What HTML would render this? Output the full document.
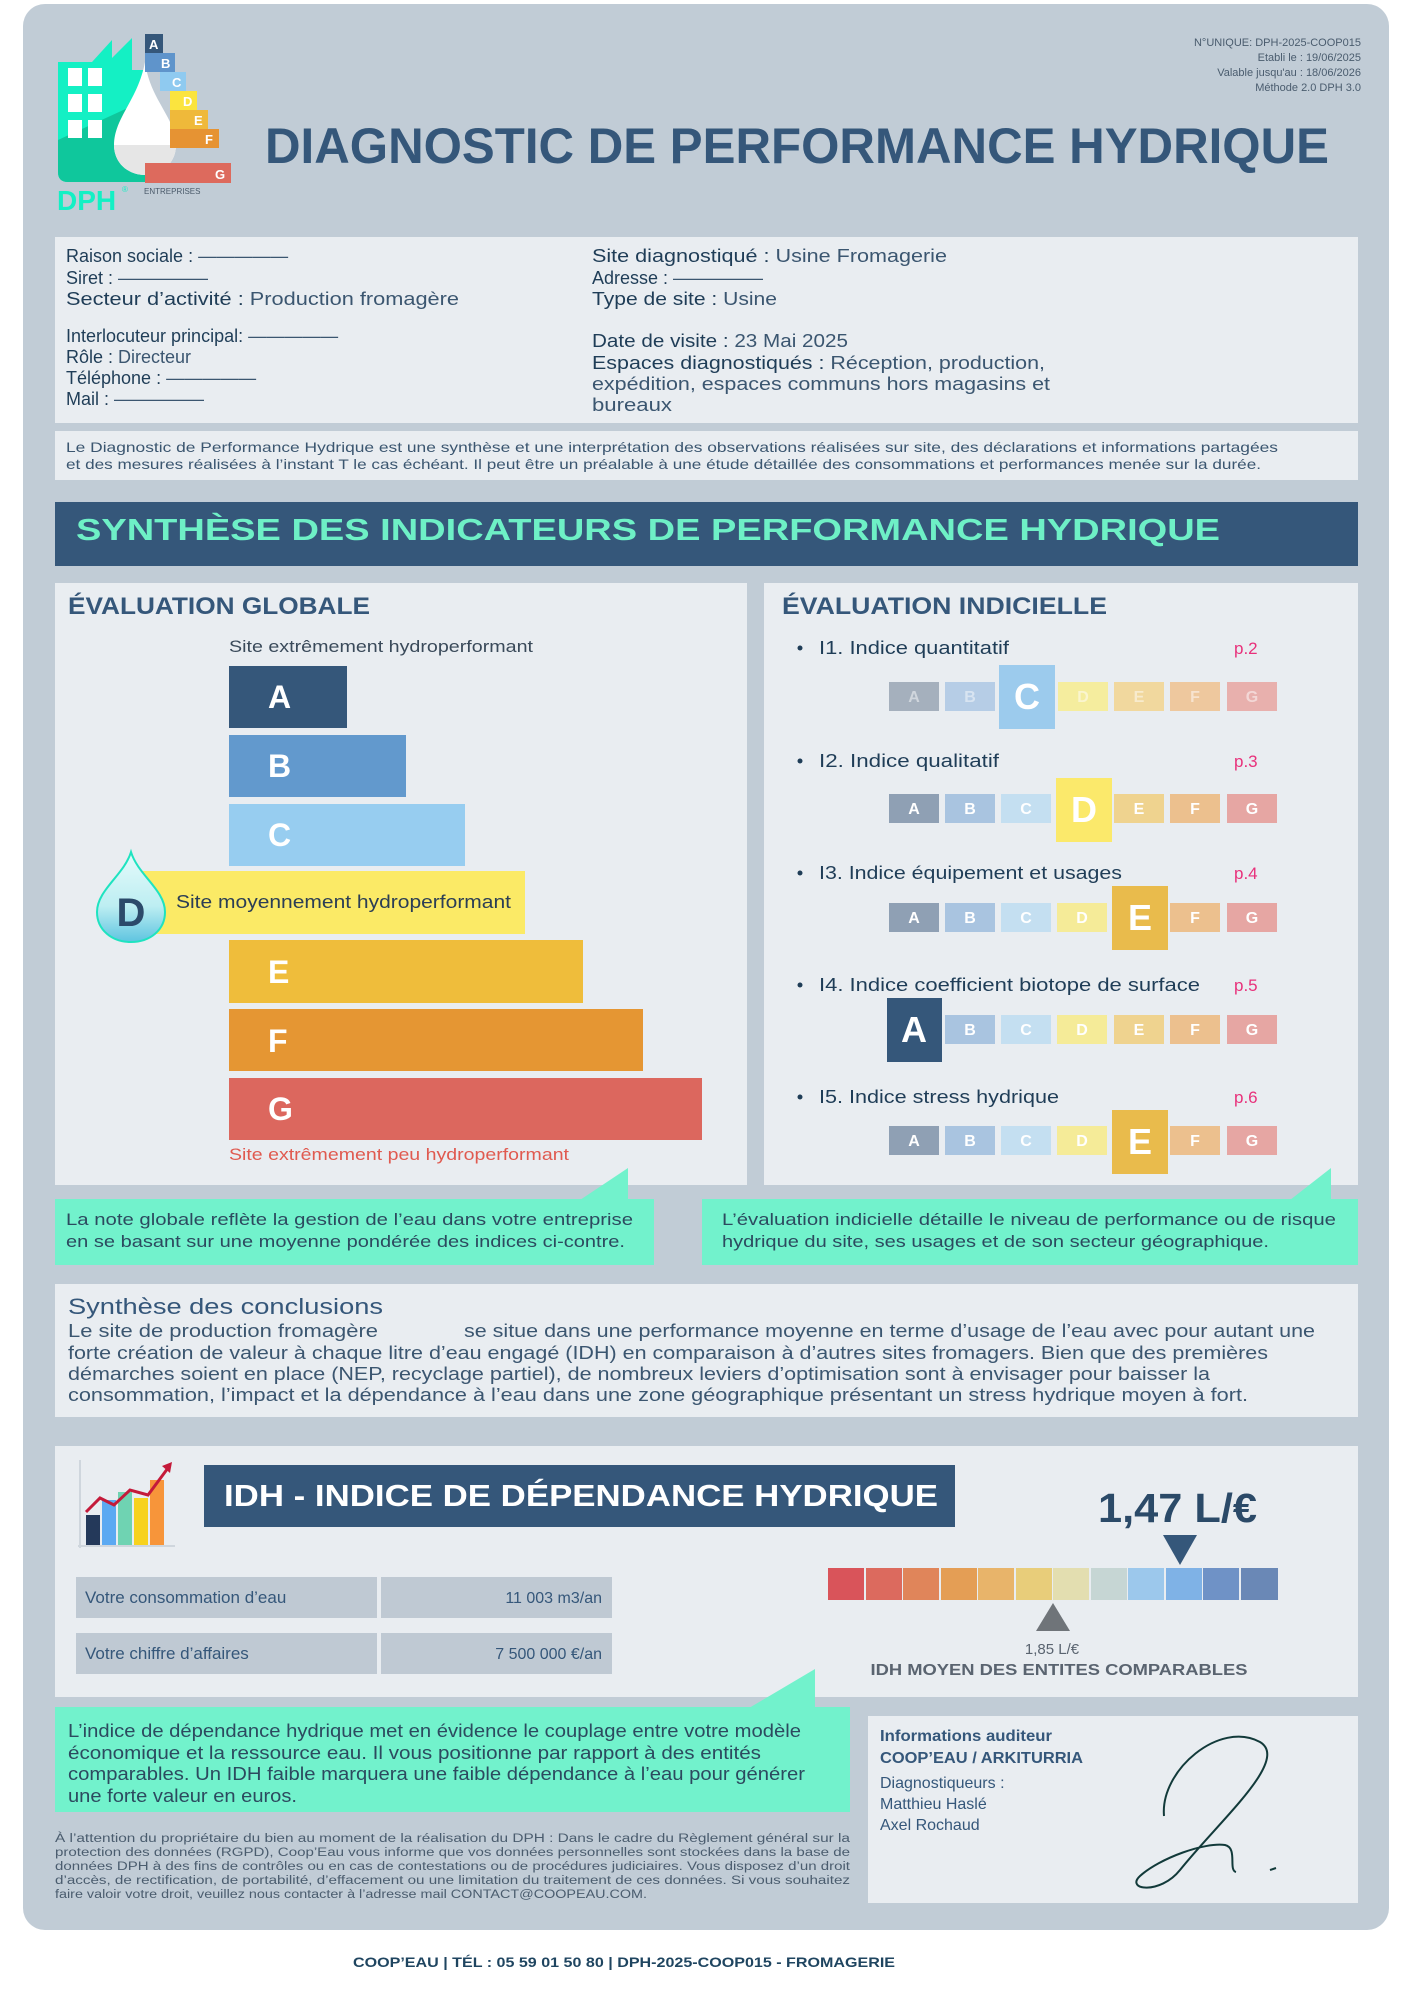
<!DOCTYPE html>
<html><head><meta charset="utf-8"><style>
html,body{margin:0;padding:0;background:#fff;}
svg{display:block;font-family:"Liberation Sans",sans-serif;}
</style></head><body>
<svg width="1414" height="2000" viewBox="0 0 1414 2000" xmlns="http://www.w3.org/2000/svg">
<rect x="0" y="0" width="1414" height="2000" fill="#fff"/>
<rect x="23" y="4" width="1366" height="1926" rx="22" fill="#c1ccd6"/>

<!-- logo -->
<g>
<path d="M58 62 L58 172 Q58 182 68 182 L145 182 L145 70 L132 70 L132 38 L112 58 L112 40 L92 62 Z" fill="#14f0c4"/>
<path d="M58 140 L145 100 L145 182 L68 182 Q58 182 58 172Z" fill="#0fc79c"/>
<g fill="#fff"><rect x="68" y="68" width="14" height="18"/><rect x="88" y="68" width="14" height="18"/><rect x="68" y="94" width="14" height="18"/><rect x="88" y="94" width="14" height="18"/><rect x="68" y="120" width="14" height="18"/><rect x="88" y="120" width="14" height="18"/></g>
<path d="M145 62 C138 100 114 118 114 145 C114 163 128 175 145 175 C162 175 176 163 176 145 C176 118 150 100 145 62Z" fill="#fff"/>
<path d="M114 145 C114 163 128 175 145 175 C162 175 176 163 176 145Z" fill="#e6e6e6"/>
<rect x="145" y="34" width="18" height="19" fill="#35577a"/><text x="149" y="49" font-size="13" font-weight="bold" fill="#fff">A</text>
<rect x="145" y="53" width="30" height="19" fill="#5f94cb"/><text x="161" y="68" font-size="13" font-weight="bold" fill="#fff">B</text>
<rect x="160" y="72" width="26" height="19" fill="#8fcaf0"/><text x="172" y="87" font-size="13" font-weight="bold" fill="#fff">C</text>
<rect x="170" y="91" width="27" height="19" fill="#fbe43e"/><text x="183" y="106" font-size="13" font-weight="bold" fill="#fff">D</text>
<rect x="170" y="110" width="38" height="19" fill="#efb93a"/><text x="194" y="125" font-size="13" font-weight="bold" fill="#fff">E</text>
<rect x="170" y="129" width="49" height="19" fill="#e69333"/><text x="205" y="144" font-size="13" font-weight="bold" fill="#fff">F</text>
<rect x="145" y="163" width="86" height="20" fill="#dd6a5d"/><text x="215" y="179" font-size="13" font-weight="bold" fill="#fff">G</text>
<text x="57" y="210" font-size="28" font-weight="bold" fill="#14f0c4">DPH</text>
<text x="122" y="192" font-size="8" fill="#14f0c4">®</text>
<text x="144" y="194" font-size="8" fill="#4a5a6a">ENTREPRISES</text>
</g>

<g font-size="11" fill="#4a5c6e" text-anchor="end">
<text x="1361" y="46">N°UNIQUE:  DPH-2025-COOP015</text>
<text x="1361" y="61">Etabli le : 19/06/2025</text>
<text x="1361" y="76">Valable jusqu'au : 18/06/2026</text>
<text x="1361" y="91">Méthode 2.0 DPH 3.0</text>
</g>
<text x="265" y="163" font-size="50" font-weight="bold" fill="#35577a" textLength="1064" lengthAdjust="spacingAndGlyphs">DIAGNOSTIC DE PERFORMANCE HYDRIQUE</text>

<!-- info box -->
<rect x="55" y="237" width="1303" height="186" fill="#e9edf1"/>
<g font-size="18" fill="#1f3d57">
<text x="66" y="262">Raison sociale : <tspan fill="#3b5670">—————</tspan></text>
<text x="66" y="284">Siret : <tspan fill="#3b5670">—————</tspan></text>
<text x="66" y="305" textLength="393" lengthAdjust="spacingAndGlyphs">Secteur d’activité : <tspan fill="#3b5670">Production fromagère</tspan></text>
<text x="66" y="342">Interlocuteur principal: <tspan fill="#3b5670">—————</tspan></text>
<text x="66" y="363">Rôle : <tspan fill="#3b5670">Directeur</tspan></text>
<text x="66" y="384">Téléphone : <tspan fill="#3b5670">—————</tspan></text>
<text x="66" y="405">Mail : <tspan fill="#3b5670">—————</tspan></text>
<text x="592" y="262" textLength="355" lengthAdjust="spacingAndGlyphs">Site diagnostiqué : <tspan fill="#3b5670">Usine Fromagerie</tspan></text>
<text x="592" y="284">Adresse : <tspan fill="#3b5670">—————</tspan></text>
<text x="592" y="305" textLength="185" lengthAdjust="spacingAndGlyphs">Type de site : <tspan fill="#3b5670">Usine</tspan></text>
<text x="592" y="347" textLength="256" lengthAdjust="spacingAndGlyphs">Date de visite : <tspan fill="#3b5670">23 Mai 2025</tspan></text>
<text x="592" y="369" textLength="453" lengthAdjust="spacingAndGlyphs">Espaces diagnostiqués : <tspan fill="#3b5670">Réception, production,</tspan></text>
<text x="592" y="390" fill="#3b5670" textLength="458" lengthAdjust="spacingAndGlyphs">expédition, espaces communs hors magasins et</text>
<text x="592" y="411" fill="#3b5670" textLength="80" lengthAdjust="spacingAndGlyphs">bureaux</text>
</g>
<rect x="55" y="431" width="1303" height="49" fill="#e9edf1"/>
<g font-size="14" fill="#3b5670">
<text x="66" y="452" textLength="1212" lengthAdjust="spacingAndGlyphs">Le Diagnostic de Performance Hydrique est une synthèse et une interprétation des observations réalisées sur site, des déclarations et informations partagées</text>
<text x="66" y="469" textLength="1195" lengthAdjust="spacingAndGlyphs">et des mesures réalisées à l’instant T le cas échéant. Il peut être un préalable à une étude détaillée des consommations et performances menée sur la durée.</text>
</g>

<rect x="55" y="502" width="1303" height="64" fill="#35577a"/>
<text x="76" y="540" font-size="31" font-weight="bold" fill="#6ef0c6" textLength="1144" lengthAdjust="spacingAndGlyphs">SYNTHÈSE DES INDICATEURS DE PERFORMANCE HYDRIQUE</text>

<!-- left panel -->
<rect x="55" y="583" width="692" height="602" fill="#e9edf1"/>
<text x="68" y="614" font-size="24" font-weight="bold" fill="#35577a" textLength="302" lengthAdjust="spacingAndGlyphs">ÉVALUATION GLOBALE</text>
<text x="229" y="652" font-size="17" fill="#3a4a5a" textLength="304" lengthAdjust="spacingAndGlyphs">Site extrêmement hydroperformant</text>
<g font-size="32" font-weight="bold" fill="#fff">
<rect x="229" y="666" width="118" height="62" fill="#35577a"/><text x="268" y="708">A</text>
<rect x="229" y="735" width="177" height="62" fill="#6299cd"/><text x="268" y="777">B</text>
<rect x="229" y="804" width="236" height="62" fill="#97cdf0"/><text x="268" y="846">C</text>
<rect x="140" y="871" width="385" height="63" fill="#fbea66"/>
<rect x="229" y="940" width="354" height="63" fill="#efbd3b"/><text x="268" y="983">E</text>
<rect x="229" y="1009" width="414" height="62" fill="#e59633"/><text x="268" y="1052">F</text>
<rect x="229" y="1078" width="473" height="62" fill="#dc675e"/><text x="268" y="1120">G</text>
</g>
<text x="176" y="908" font-size="18" fill="#2b3e55" textLength="335" lengthAdjust="spacingAndGlyphs">Site moyennement hydroperformant</text>
<defs><linearGradient id="dg" x1="0" y1="0" x2="0" y2="1"><stop offset="0" stop-color="#e6fbfb"/><stop offset="0.6" stop-color="#bdeef2"/><stop offset="1" stop-color="#5ec4e0"/></linearGradient></defs>
<path d="M131 852 C124 875 97 890 97 912 C97 930 112 942 131 942 C150 942 165 930 165 912 C165 890 138 875 131 852Z" fill="url(#dg)" stroke="#1fe3c0" stroke-width="2"/>
<text x="131" y="926" font-size="40" font-weight="bold" fill="#2b4a6a" text-anchor="middle">D</text>
<text x="229" y="1160" font-size="17" fill="#e05a50" textLength="340" lengthAdjust="spacingAndGlyphs">Site extrêmement peu hydroperformant</text>

<!-- right panel -->
<rect x="764" y="583" width="594" height="602" fill="#e9edf1"/>
<text x="782" y="614" font-size="24" font-weight="bold" fill="#35577a" textLength="325" lengthAdjust="spacingAndGlyphs">ÉVALUATION INDICIELLE</text>
<g font-size="18" fill="#1f3d57">
<circle cx="800" cy="648" r="2.5"/><text x="819" y="654" textLength="190" lengthAdjust="spacingAndGlyphs">I1. Indice quantitatif</text>
<circle cx="800" cy="761" r="2.5"/><text x="819" y="767" textLength="180" lengthAdjust="spacingAndGlyphs">I2. Indice qualitatif</text>
<circle cx="800" cy="873" r="2.5"/><text x="819" y="879" textLength="303" lengthAdjust="spacingAndGlyphs">I3. Indice équipement et usages</text>
<circle cx="800" cy="985" r="2.5"/><text x="819" y="991" textLength="381" lengthAdjust="spacingAndGlyphs">I4. Indice coefficient biotope de surface</text>
<circle cx="800" cy="1097" r="2.5"/><text x="819" y="1103" textLength="240" lengthAdjust="spacingAndGlyphs">I5. Indice stress hydrique</text>
</g>
<g font-size="17" fill="#e8317b">
<text x="1234" y="654">p.2</text><text x="1234" y="767">p.3</text><text x="1234" y="879">p.4</text><text x="1234" y="991">p.5</text><text x="1234" y="1103">p.6</text>
</g>
<g font-size="16" font-weight="bold" fill="#fff" text-anchor="middle">
<rect x="889" y="682" width="50" height="29" fill="#a5b0bd"/><text x="914" y="702" fill="#d0d6dd">A</text>
<rect x="945" y="682" width="50" height="29" fill="#b6cde6"/><text x="970" y="702" fill="#d8e4f1">B</text>
<rect x="999" y="665" width="56" height="64" fill="#9ccbed"/><text x="1027" y="709" font-size="36">C</text>
<rect x="1058" y="682" width="50" height="29" fill="#f5ed9e"/><text x="1083" y="702" fill="#faf5cf">D</text>
<rect x="1114" y="682" width="50" height="29" fill="#f1d89e"/><text x="1139" y="702" fill="#f8ebcd">E</text>
<rect x="1170" y="682" width="50" height="29" fill="#eec89e"/><text x="1195" y="702" fill="#f7e3cf">F</text>
<rect x="1227" y="682" width="50" height="29" fill="#e8b0ad"/><text x="1252" y="702" fill="#f3d7d6">G</text>
<rect x="889" y="794" width="50" height="29" fill="#8fa0b4"/><text x="914" y="814">A</text>
<rect x="945" y="794" width="50" height="29" fill="#a9c4e0"/><text x="970" y="814">B</text>
<rect x="1001" y="794" width="50" height="29" fill="#c4dff1"/><text x="1026" y="814">C</text>
<rect x="1056" y="778" width="56" height="64" fill="#fbe96b"/><text x="1084" y="822" font-size="36">D</text>
<rect x="1114" y="794" width="50" height="29" fill="#efd38f"/><text x="1139" y="814">E</text>
<rect x="1170" y="794" width="50" height="29" fill="#ecc08e"/><text x="1195" y="814">F</text>
<rect x="1227" y="794" width="50" height="29" fill="#e6a6a3"/><text x="1252" y="814">G</text>
<rect x="889" y="903" width="50" height="29" fill="#8fa0b4"/><text x="914" y="923">A</text>
<rect x="945" y="903" width="50" height="29" fill="#a9c4e0"/><text x="970" y="923">B</text>
<rect x="1001" y="903" width="50" height="29" fill="#c4dff1"/><text x="1026" y="923">C</text>
<rect x="1057" y="903" width="50" height="29" fill="#f5eb98"/><text x="1082" y="923">D</text>
<rect x="1112" y="886" width="56" height="64" fill="#e9bb4c"/><text x="1140" y="930" font-size="36">E</text>
<rect x="1170" y="903" width="50" height="29" fill="#ecc08e"/><text x="1195" y="923">F</text>
<rect x="1227" y="903" width="50" height="29" fill="#e6a6a3"/><text x="1252" y="923">G</text>
<rect x="887" y="998" width="55" height="64" fill="#35577a"/><text x="914" y="1042" font-size="36">A</text>
<rect x="945" y="1015" width="50" height="29" fill="#a9c4e0"/><text x="970" y="1035">B</text>
<rect x="1001" y="1015" width="50" height="29" fill="#c4dff1"/><text x="1026" y="1035">C</text>
<rect x="1057" y="1015" width="50" height="29" fill="#f5eb98"/><text x="1082" y="1035">D</text>
<rect x="1114" y="1015" width="50" height="29" fill="#efd38f"/><text x="1139" y="1035">E</text>
<rect x="1170" y="1015" width="50" height="29" fill="#ecc08e"/><text x="1195" y="1035">F</text>
<rect x="1227" y="1015" width="50" height="29" fill="#e6a6a3"/><text x="1252" y="1035">G</text>
<rect x="889" y="1126" width="50" height="29" fill="#8fa0b4"/><text x="914" y="1146">A</text>
<rect x="945" y="1126" width="50" height="29" fill="#a9c4e0"/><text x="970" y="1146">B</text>
<rect x="1001" y="1126" width="50" height="29" fill="#c4dff1"/><text x="1026" y="1146">C</text>
<rect x="1057" y="1126" width="50" height="29" fill="#f5eb98"/><text x="1082" y="1146">D</text>
<rect x="1112" y="1110" width="56" height="64" fill="#e9bb4c"/><text x="1140" y="1154" font-size="36">E</text>
<rect x="1170" y="1126" width="50" height="29" fill="#ecc08e"/><text x="1195" y="1146">F</text>
<rect x="1227" y="1126" width="50" height="29" fill="#e6a6a3"/><text x="1252" y="1146">G</text>
</g>

<!-- callouts -->
<g fill="#72f2cc">
<rect x="55" y="1199" width="599" height="66"/><path d="M580 1200 L628 1168 L628 1200Z"/>
<rect x="702" y="1199" width="656" height="66"/><path d="M1290 1200 L1331 1168 L1331 1200Z"/>
</g>
<g font-size="16.5" fill="#2c4a5f">
<text x="66" y="1225" textLength="567" lengthAdjust="spacingAndGlyphs">La note globale reflète la gestion de l’eau dans votre entreprise</text>
<text x="66" y="1247" textLength="559" lengthAdjust="spacingAndGlyphs">en se basant sur une moyenne pondérée des indices ci-contre.</text>
<text x="722" y="1225" textLength="614" lengthAdjust="spacingAndGlyphs">L’évaluation indicielle détaille le niveau de performance ou de risque</text>
<text x="722" y="1247" textLength="547" lengthAdjust="spacingAndGlyphs">hydrique du site, ses usages et de son secteur géographique.</text>
</g>

<!-- conclusions -->
<rect x="55" y="1284" width="1303" height="133" fill="#e9edf1"/>
<text x="68" y="1314" font-size="22" fill="#35577a" textLength="315" lengthAdjust="spacingAndGlyphs">Synthèse des conclusions</text>
<g font-size="18" fill="#3b5670">
<text x="68" y="1337" textLength="310" lengthAdjust="spacingAndGlyphs">Le site de production fromagère</text>
<text x="464" y="1337" textLength="851" lengthAdjust="spacingAndGlyphs">se situe dans une performance moyenne en terme d’usage de l’eau avec pour autant une</text>
<text x="68" y="1359" textLength="1200" lengthAdjust="spacingAndGlyphs">forte création de valeur à chaque litre d’eau engagé (IDH) en comparaison à d’autres sites fromagers. Bien que des premières</text>
<text x="68" y="1380" textLength="1142" lengthAdjust="spacingAndGlyphs">démarches soient en place (NEP, recyclage partiel), de nombreux leviers d’optimisation sont à envisager pour baisser la</text>
<text x="68" y="1401" textLength="1180" lengthAdjust="spacingAndGlyphs">consommation, l’impact et la dépendance à l’eau dans une zone géographique présentant un stress hydrique moyen à fort.</text>
</g>

<!-- IDH box -->
<rect x="55" y="1446" width="1303" height="251" fill="#e9edf1"/>
<g>
<line x1="80" y1="1460" x2="80" y2="1548" stroke="#cfd6dd" stroke-width="2"/>
<line x1="78" y1="1546" x2="175" y2="1546" stroke="#cfd6dd" stroke-width="2"/>
<rect x="86" y="1515" width="14" height="30" fill="#24395a"/>
<rect x="102" y="1500" width="14" height="45" fill="#5ba9f2"/>
<rect x="118" y="1492" width="14" height="53" fill="#6fd3b2"/>
<rect x="134" y="1498" width="14" height="47" fill="#f7d21e"/>
<rect x="150" y="1480" width="14" height="65" fill="#f7953a"/>
<polyline points="86,1512 100,1498 114,1505 130,1490 148,1495 168,1468" fill="none" stroke="#c41a3a" stroke-width="3"/>
<path d="M162 1466 L172 1462 L170 1473Z" fill="#c41a3a"/>
</g>
<rect x="204" y="1465" width="751" height="62" fill="#35577a"/>
<text x="224" y="1506" font-size="31" font-weight="bold" fill="#fff" textLength="714" lengthAdjust="spacingAndGlyphs">IDH - INDICE DE DÉPENDANCE HYDRIQUE</text>
<text x="1098" y="1522" font-size="41" font-weight="bold" fill="#2b4a68" textLength="159" lengthAdjust="spacingAndGlyphs">1,47 L/€</text>
<path d="M1163 1535 L1197 1535 L1180 1565Z" fill="#35577a"/>
<g>
<rect x="828" y="1568" width="36" height="32" fill="#d9545a"/>
<rect x="866" y="1568" width="36" height="32" fill="#dc6a5e"/>
<rect x="903" y="1568" width="36" height="32" fill="#e0855a"/>
<rect x="941" y="1568" width="36" height="32" fill="#e49e55"/>
<rect x="978" y="1568" width="36" height="32" fill="#e8b46a"/>
<rect x="1016" y="1568" width="36" height="32" fill="#e8cd7a"/>
<rect x="1053" y="1568" width="36" height="32" fill="#e3deb0"/>
<rect x="1091" y="1568" width="36" height="32" fill="#c6d6d4"/>
<rect x="1128" y="1568" width="36" height="32" fill="#9cc8ec"/>
<rect x="1166" y="1568" width="36" height="32" fill="#7fb2e6"/>
<rect x="1203" y="1568" width="36" height="32" fill="#6f92c6"/>
<rect x="1241" y="1568" width="37" height="32" fill="#6a88b6"/>
</g>
<path d="M1036 1631 L1070 1631 L1053 1603Z" fill="#6f7479"/>
<text x="1052" y="1654" font-size="15" fill="#5a6470" text-anchor="middle">1,85 L/€</text>
<text x="1059" y="1675" font-size="16" font-weight="bold" fill="#5a6470" text-anchor="middle" textLength="377" lengthAdjust="spacingAndGlyphs">IDH MOYEN DES ENTITES COMPARABLES</text>
<g font-size="17" fill="#35577a">
<rect x="76" y="1577" width="301" height="41" fill="#bfc9d3"/><rect x="381" y="1577" width="231" height="41" fill="#bfc9d3"/>
<rect x="76" y="1633" width="301" height="41" fill="#bfc9d3"/><rect x="381" y="1633" width="231" height="41" fill="#bfc9d3"/>
<text x="85" y="1603">Votre consommation d’eau</text>
<text x="602" y="1603" text-anchor="end" font-size="16">11 003 m3/an</text>
<text x="85" y="1659">Votre chiffre d’affaires</text>
<text x="602" y="1659" text-anchor="end" font-size="16">7 500 000 €/an</text>
</g>

<!-- bottom callout -->
<g fill="#72f2cc"><rect x="55" y="1707" width="795" height="105"/><path d="M749 1708 L815 1669 L815 1708Z"/></g>
<g font-size="18" fill="#2c4a5f">
<text x="68" y="1737" textLength="733" lengthAdjust="spacingAndGlyphs">L’indice de dépendance hydrique met en évidence le couplage entre votre modèle</text>
<text x="68" y="1759" textLength="693" lengthAdjust="spacingAndGlyphs">économique et la ressource eau. Il vous positionne par rapport à des entités</text>
<text x="68" y="1780" textLength="737" lengthAdjust="spacingAndGlyphs">comparables. Un IDH faible marquera une faible dépendance à l’eau pour générer</text>
<text x="68" y="1802" textLength="229" lengthAdjust="spacingAndGlyphs">une forte valeur en euros.</text>
</g>
<g font-size="11.5" fill="#4a5c6e">
<text x="55" y="1842" textLength="795" lengthAdjust="spacingAndGlyphs">À l’attention du propriétaire du bien au moment de la réalisation du DPH : Dans le cadre du Règlement général sur la</text>
<text x="55" y="1856" textLength="795" lengthAdjust="spacingAndGlyphs">protection des données (RGPD), Coop’Eau vous informe que vos données personnelles sont stockées dans la base de</text>
<text x="55" y="1870" textLength="795" lengthAdjust="spacingAndGlyphs">données DPH à des fins de contrôles ou en cas de contestations ou de procédures judiciaires. Vous disposez d’un droit</text>
<text x="55" y="1884" textLength="795" lengthAdjust="spacingAndGlyphs">d’accès, de rectification, de portabilité, d’effacement ou une limitation du traitement de ces données. Si vous souhaitez</text>
<text x="55" y="1898" textLength="592" lengthAdjust="spacingAndGlyphs">faire valoir votre droit, veuillez nous contacter à l’adresse mail CONTACT@COOPEAU.COM.</text>
</g>
<rect x="868" y="1716" width="490" height="187" fill="#e9edf1"/>
<g font-size="16" fill="#35577a">
<text x="880" y="1741" font-weight="bold" textLength="172" lengthAdjust="spacingAndGlyphs">Informations auditeur</text>
<text x="880" y="1763" font-weight="bold" textLength="203" lengthAdjust="spacingAndGlyphs">COOP’EAU / ARKITURRIA</text>
<text x="880" y="1788">Diagnostiqueurs :</text>
<text x="880" y="1809">Matthieu Haslé</text>
<text x="880" y="1830">Axel Rochaud</text>
</g>
<path d="M1164 1816 C1160 1770 1220 1720 1260 1742 C1290 1760 1220 1820 1180 1870 C1160 1895 1125 1890 1140 1876 C1160 1858 1205 1842 1225 1845 C1238 1848 1228 1870 1236 1872 M1270 1870 L1276 1868" fill="none" stroke="#123a3a" stroke-width="2"/>

<text x="624" y="1967" font-size="14" font-weight="bold" fill="#1f4560" text-anchor="middle" textLength="542" lengthAdjust="spacingAndGlyphs">COOP’EAU | TÉL : 05 59 01 50 80 | DPH-2025-COOP015 - FROMAGERIE</text>
</svg>
</body></html>
